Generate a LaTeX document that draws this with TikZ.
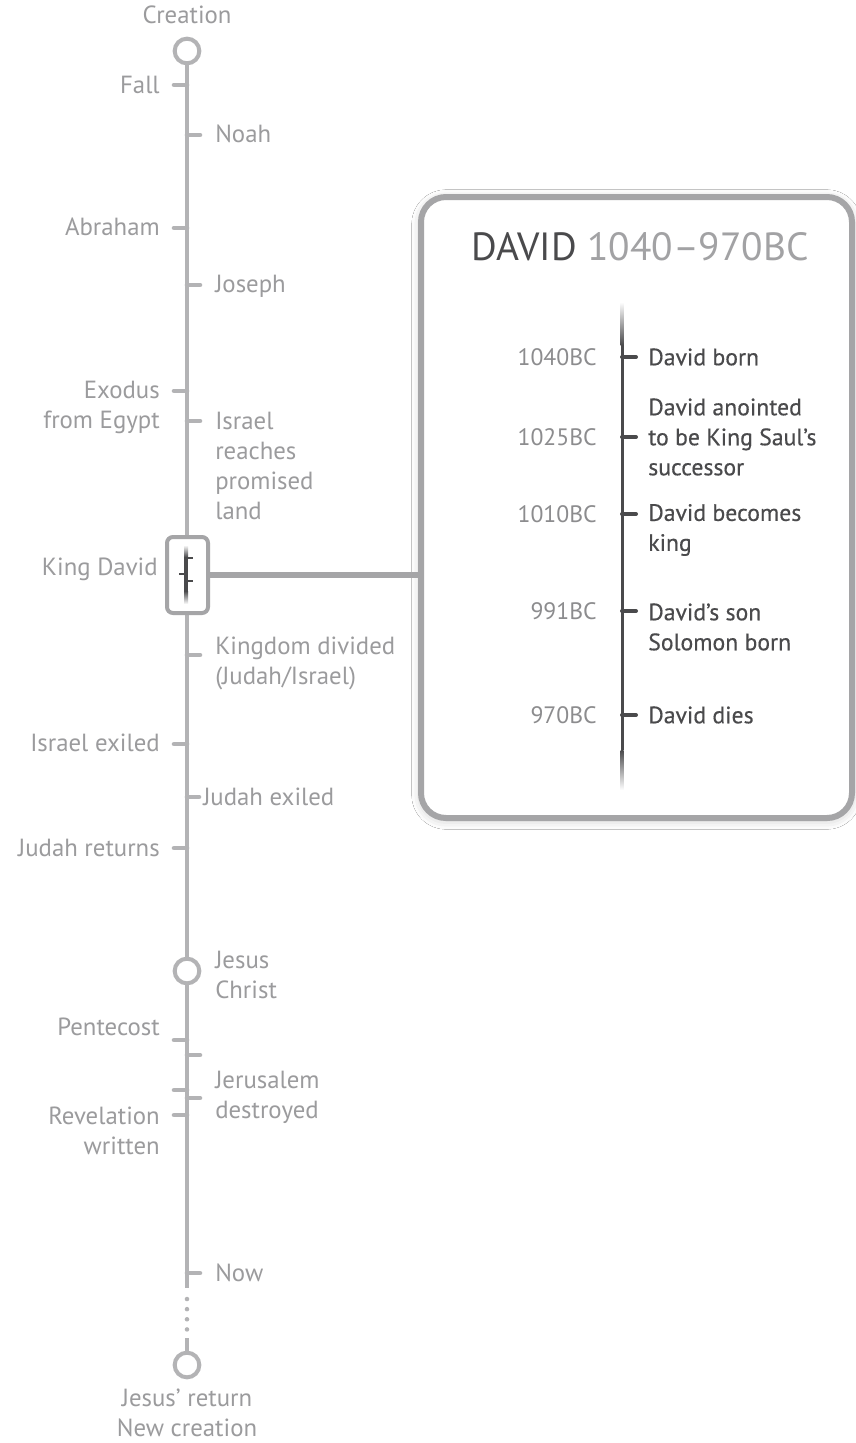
\documentclass[tikz,border=0pt]{standalone}
\usepackage{fontspec}
\setmainfont{PT Sans}
\usetikzlibrary{positioning, calc, shadows.blur}

\definecolor{axisgray}{HTML}{B3B3B5}
\definecolor{labelgray}{HTML}{9B9B9D}
\definecolor{framegray}{HTML}{A5A5A7}
\definecolor{inkdark}{HTML}{4A4A4C}
\definecolor{dategray}{HTML}{8C8C8E}
\definecolor{titlegray}{HTML}{A2A2A4}

\newcommand{\lblfont}{\fontsize{18.6}{22.5}\selectfont}
\newcommand{\panelfont}{\fontsize{17.8}{22.5}\selectfont}

\begin{document}
\begin{tikzpicture}[x=0.75pt, y=-0.75pt,
    axis/.style={axisgray, line width=3.4pt},
    tickmark/.style={axisgray, line width=3.4pt, line cap=round},
    lbl/.style={font=\lblfont, text=labelgray, inner sep=0pt},
    ring/.style={circle, draw=axisgray, line width=3pt, fill=white, minimum size=18.5pt, inner sep=0pt},
    inktick/.style={inkdark, line width=3pt, line cap=round},
    datelbl/.style={font=\panelfont, text=dategray, inner sep=0pt, anchor=east},
    eventlbl/.style={font=\panelfont\addfontfeature{FakeBold=0.4}, text=inkdark, inner sep=0pt, anchor=west, align=left}]

    \useasboundingbox (0,0) rectangle (856,1443);
    \fill[white] (0,0) rectangle (856,1443);

    % Main timeline - start and end rings
    \node[ring] (creation) at (187,51) {};
    \node[ring] (jesus) at (187,971) {};
    \node[ring] (newcreation) at (187,1365) {};
    \coordinate (nowend) at (187,1288);
    \coordinate (dotsend) at (187,1338);

    \draw[axis] (creation.south) -- (jesus.north);
    \draw[axis] (jesus.south) -- (nowend);
    \draw[axisgray, line width=3.4pt, line cap=round, dash pattern=on 0pt off 7.6pt] (nowend) ++(0,11) -- ++(0,32);
    \draw[axis] (dotsend) -- (newcreation.north);

    % Ticks on the left
    \draw[tickmark] (187,85) -- ++(-13,0);
    \draw[tickmark] (187,228) -- ++(-13,0);
    \draw[tickmark] (187,391) -- ++(-13,0);
    \draw[tickmark] (187,744) -- ++(-13,0);
    \draw[tickmark] (187,848) -- ++(-13,0);
    \draw[tickmark] (187,1040) -- ++(-13,0);
    \draw[tickmark] (187,1090) -- ++(-13,0);
    \draw[tickmark] (187,1115) -- ++(-13,0);

    % Ticks on the right
    \draw[tickmark] (187,135) -- ++(13,0);
    \draw[tickmark] (187,285) -- ++(13,0);
    \draw[tickmark] (187,421) -- ++(13,0);
    \draw[tickmark] (187,655) -- ++(13,0);
    \draw[tickmark] (187,797) -- ++(12,0);
    \draw[tickmark] (187,1055) -- ++(13,0);
    \draw[tickmark] (187,1098) -- ++(13,0);
    \draw[tickmark] (187,1273) -- ++(13,0);

    % Labels
    \node[lbl] (creationlbl) at (187,15) {Creation};
    \node[lbl, anchor=east] (fall) at (160,85) {Fall};
    \node[lbl, anchor=west] (noah) at (215,134) {Noah};
    \node[lbl, anchor=east] (abraham) at (160,227) {Abraham};
    \node[lbl, anchor=west] (joseph) at (215,286) {Joseph};
    \node[lbl, anchor=east, align=right] (exodus) at (160,407) {Exodus\\from Egypt};
    \node[lbl, anchor=west, align=left] (promised) at (215,466) {Israel\\reaches\\promised\\land};
    \node[lbl, anchor=east] (kingdavid) at (158,569) {King David};
    \node[lbl, anchor=west, align=left] (divided) at (215,663) {Kingdom divided\\(Judah/Israel)};
    \node[lbl, anchor=east] (israelexile) at (160,743) {Israel exiled};
    \node[lbl, anchor=west] (judahexile) at (203,797) {Judah exiled};
    \node[lbl, anchor=east] (judahreturn) at (160,848) {Judah returns};
    \node[lbl, anchor=west, align=left] (jesuslbl) at (215,975) {Jesus\\Christ};
    \node[lbl, anchor=east] (pentecost) at (160,1027) {Pentecost};
    \node[lbl, anchor=west, align=left] (jerusalem) at (215,1097) {Jerusalem\\destroyed};
    \node[lbl, anchor=east, align=right] (revelation) at (160,1131) {Revelation\\written};
    \node[lbl, anchor=west] (now) at (215,1273) {Now};
    \node[lbl, align=center] (returnlbl) at (187,1413) {Jesus’ return\\New creation};

    % King David box with the mini timeline
    \node[draw=framegray, line width=3pt, fill=white, rounded corners=4.5pt,
          minimum width=30.75pt, minimum height=57pt, inner sep=0pt] (kdbox) at (187.5,575) {};
    \shade[top color=white, bottom color=inkdark] (184,545) rectangle (188,557);
    \fill[inkdark] (184,557) rectangle (188,591);
    \shade[top color=inkdark, bottom color=white] (184,591) rectangle (188,604);
    \draw[inkdark, line width=2pt] (186,558) -- ++(7,0);
    \draw[inkdark, line width=2pt] (186,574) -- ++(-7,0);
    \draw[inkdark, line width=2pt] (186,581) -- ++(7,0);

    % Zoomed panel
    \node[draw=framegray, line width=4.5pt, fill=white, rounded corners=18.75pt,
          minimum width=323.25pt, minimum height=465.75pt, inner sep=0pt,
          blur shadow={shadow xshift=0pt, shadow yshift=-1.5pt, shadow blur radius=7pt, shadow opacity=22}]
          (davidbox) at (636.5,507.5) {};
    \draw[framegray, line width=4pt] (kdbox.east) -- (kdbox.east -| davidbox.west);

    \node[font=\fontsize{29.5}{34}\selectfont, text=titlegray, inner sep=0pt] (title) at (640,247)
          {\textcolor{inkdark}{DAVID} 1040–970BC};

    % Panel timeline with faded ends
    \shade[top color=white, bottom color=inkdark] (620.5,302) rectangle (623.5,345);
    \fill[inkdark] (620.5,345) rectangle (623.5,750);
    \shade[top color=inkdark, bottom color=white] (620.5,750) rectangle (623.5,790);

    \draw[inktick] (622,357) -- ++(14,0);
    \draw[inktick] (622,437) -- ++(14,0);
    \draw[inktick] (622,514) -- ++(14,0);
    \draw[inktick] (622,611) -- ++(14,0);
    \draw[inktick] (622,715) -- ++(14,0);

    \node[datelbl] (d1040) at (597,357) {1040BC};
    \node[datelbl] (d1025) at (597,437) {1025BC};
    \node[datelbl] (d1010) at (597,514) {1010BC};
    \node[datelbl] (d991) at (597,611) {991BC};
    \node[datelbl] (d970) at (597,715) {970BC};

    \node[eventlbl] (born) at (648,357) {David born};
    \node[eventlbl] (anointed) at (648,437) {David anointed\\to be King Saul’s\\successor};
    \node[eventlbl] (becomesking) at (648,530) {David becomes\\king};
    \node[eventlbl] (solomon) at (648,627) {David’s son\\Solomon born};
    \node[eventlbl] (dies) at (648,715) {David dies};
\end{tikzpicture}
\end{document}
